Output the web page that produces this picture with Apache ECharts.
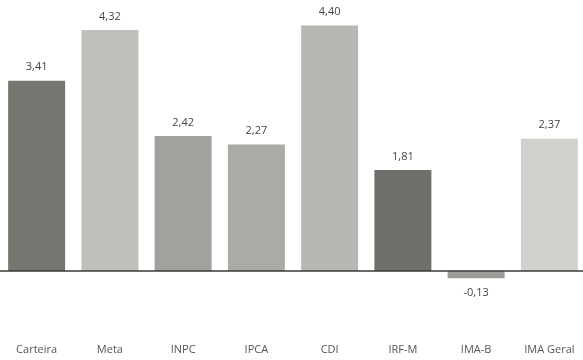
<!DOCTYPE html>
<html>
<head>
<meta charset="utf-8">
<script src="https://cdn.jsdelivr.net/npm/echarts@6/dist/echarts.min.js"></script>
<style>
  html, body { margin: 0; padding: 0; background: #ffffff; }
  #chart { width: 583px; height: 360px; }
</style>
</head>
<body>
<div id="chart"></div>
<script>
// Rentabilidade por índice (%)
const categories = ['Carteira', 'Meta', 'INPC', 'IPCA', 'CDI', 'IRF-M', 'IMA-B', 'IMA Geral'];
const values = [3.41, 4.32, 2.42, 2.27, 4.40, 1.81, -0.13, 2.37];
const barColors = ['#74776f', '#bfc0bc', '#a0a29d', '#a9aba6', '#b6b8b3', '#6e716b', '#9b9c98', '#d0d1cd'];

const fmt = v => v.toFixed(2).replace('.', ',');

const chart = echarts.init(document.getElementById('chart'));
chart.setOption({
  animation: false,
  backgroundColor: '#ffffff',
  grid: { left: 0, top: 20, width: 586, bottom: 22, containLabel: false, outerBoundsMode: 'none' },
  xAxis: {
    type: 'category',
    data: categories,
    axisLine: { onZero: false, show: false },
    axisTick: { show: false },
    axisLabel: {
      margin: 6,
      color: '#555555',
      fontSize: 11,
      fontFamily: 'Open Sans'
    }
  },
  yAxis: {
    type: 'value',
    min: -1.2,
    max: 4.5,
    show: false,
    splitLine: { show: false }
  },
  series: [{
    type: 'bar',
    barWidth: 57,
    data: values.map((v, i) => ({
      value: v,
      itemStyle: { color: barColors[i] },
      label: { position: v < 0 ? 'bottom' : 'top', distance: v < 0 ? 9 : 8 }
    })),
    label: {
      show: true,
      color: '#444444',
      fontSize: 11,
      fontFamily: 'Open Sans',
      formatter: p => fmt(p.value)
    },
    // zero baseline
    markLine: {
      silent: true,
      symbol: 'none',
      label: { show: false },
      lineStyle: { color: '#3a3a36', width: 1.5, type: 'solid' },
      data: [{ yAxis: 0 }]
    }
  }]
});
</script>
</body>
</html>
